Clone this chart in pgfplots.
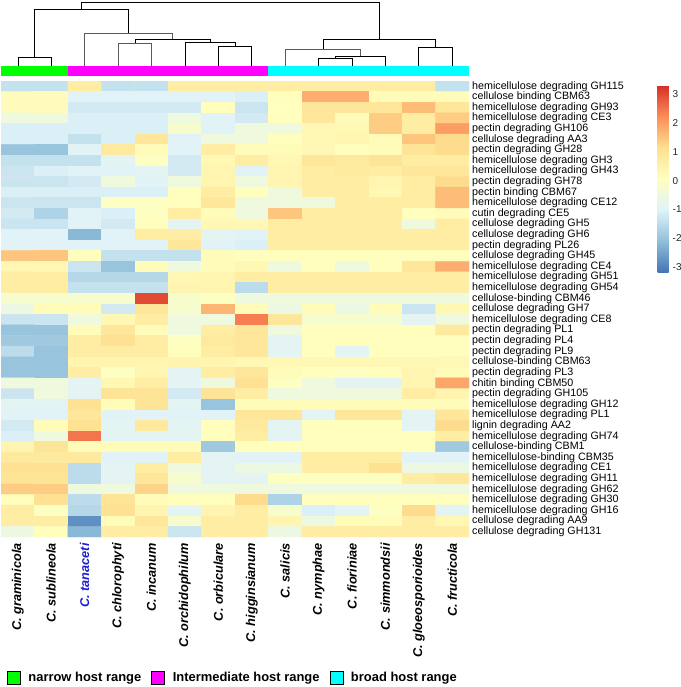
\documentclass[border=0pt]{standalone}
\usepackage{fontspec}
\setmainfont{Liberation Sans}
\usepackage{graphicx}
\usepackage{pgfplots}
\pgfplotsset{compat=1.18}
\definecolor{dendro}{HTML}{5A5A5A}
\definecolor{narrowc}{HTML}{00FF00}
\definecolor{interc}{HTML}{FF00FF}
\definecolor{broadc}{HTML}{00FFFF}
\definecolor{tanac}{HTML}{1E1ED2}
\newcommand\spn[1]{\scalebox{1.36}{\fontsize{9.4}{11}\selectfont\bfseries\itshape #1}}
\begin{document}
\begin{tikzpicture}
% ---------- dendrogram and annotation bar ----------
\begin{axis}[at={(1bp,0bp)}, anchor=north west, scale only axis,
  width=468bp, height=76bp, xmin=0.5, xmax=14.5, ymin=0, ymax=76,
  y dir=reverse, hide axis, clip=false,
  cycle list={{dendro, line width=0.9bp, solid, mark=none}}]
\addplot[fill=narrowc, draw=none] coordinates {(0.5,66) (2.5,66) (2.5,76) (0.5,76)} -- cycle;
\addplot[fill=interc, draw=none] coordinates {(2.5,66) (8.5,66) (8.5,76) (2.5,76)} -- cycle;
\addplot[fill=broadc, draw=none] coordinates {(8.5,66) (14.5,66) (14.5,76) (8.5,76)} -- cycle;
\addplot coordinates {(1,66) (1,56.7) (2,56.7) (2,66)};
\addplot coordinates {(4,66) (4,43.3) (5,43.3) (5,66)};
\addplot coordinates {(7,66) (7,46.7) (8,46.7) (8,66)};
\addplot coordinates {(6,66) (6,41.7) (7.5,41.7) (7.5,46.7)};
\addplot coordinates {(4.5,43.3) (4.5,39.3) (6.75,39.3) (6.75,41.7)};
\addplot coordinates {(3,66) (3,33.3) (5.625,33.3) (5.625,39.3)};
\addplot coordinates {(1.5,56.7) (1.5,9.3) (4.3125,9.3) (4.3125,33.3)};
\addplot coordinates {(10,66) (10,57.7) (11,57.7) (11,66)};
\addplot coordinates {(10.5,57.7) (10.5,55.7) (12,55.7) (12,66)};
\addplot coordinates {(9,66) (9,49) (11.25,49) (11.25,55.7)};
\addplot coordinates {(13,66) (13,47.3) (14,47.3) (14,66)};
\addplot coordinates {(10.125,49) (10.125,39.3) (13.5,39.3) (13.5,47.3)};
\addplot coordinates {(2.906,9.3) (2.906,1.7) (11.8125,1.7) (11.8125,39.3)};
\end{axis}
% ---------- heatmap ----------
\begin{axis}[at={(1bp,-81bp)}, anchor=north west, scale only axis,
  width=468bp, height=456bp, xmin=0.5, xmax=14.5, ymin=0.5, ymax=43.5,
  y dir=reverse, axis line style={draw=none}, major tick length=0pt,
  xtick={1,...,14}, ytick={1,...,43},
  xticklabels={\spn{C. graminicola}, \spn{C. sublineola}, \spn{\textcolor{tanac}{C. tanaceti}}, \spn{C. chlorophyti}, \spn{C. incanum}, \spn{C. orchidophilum}, \spn{C. orbiculare}, \spn{C. higginsianum}, \spn{C. salicis}, \spn{C. nymphae}, \spn{C. fioriniae}, \spn{C. simmondsii}, \spn{C. gloeosporioides}, \spn{C. fructicola}},
  xticklabel style={rotate=90, anchor=east, inner sep=0pt},
  xticklabel shift=6bp,
  yticklabel pos=right,
  yticklabels={hemicellulose degrading GH115, cellulose binding CBM63, hemicellulose degrading GH93, hemicellulose degrading CE3, pectin degrading GH106, cellulose degrading AA3, pectin degrading GH28, hemicellulose degrading GH3, hemicellulose degrading GH43, pectin degrading GH78, pectin binding CBM67, hemicellulose degrading CE12, cutin degrading CE5, cellulose degrading GH5, cellulose degrading GH6, pectin degrading PL26, cellulose degrading GH45, hemicellulose degrading CE4, hemicellulose degrading GH51, hemicellulose degrading GH54, cellulose-binding CBM46, cellulose degrading GH7, hemicellulose degrading CE8, pectin degrading PL1, pectin degrading PL4, pectin degrading PL9, cellulose-binding CBM63, pectin degrading PL3, chitin binding CBM50, pectin degrading GH105, hemicellulose degrading GH12, hemicellulose degrading PL1, lignin degrading AA2, hemicellulose degrading GH74, cellulose-binding CBM1, hemicellulose-binding CBM35, hemicellulose degrading CE1, hemicellulose degrading GH11, hemicellulose degrading GH62, hemicellulose degrading GH30, hemicellulose degrading GH16, cellulose degrading AA9, cellulose degrading GH131},
  yticklabel style={font=\fontsize{10.75}{11}\selectfont, anchor=west, inner sep=0pt},
  yticklabel shift=3bp,
  colormap={rdylbu}{rgb255=(69,117,180) rgb255=(145,191,219) rgb255=(224,243,248) rgb255=(255,255,191) rgb255=(254,224,144) rgb255=(252,141,89) rgb255=(215,48,39)},
  point meta min=-3.18, point meta max=3.3,
  colorbar,
  colorbar style={at={(parent axis.north east)}, anchor=north west,
    xshift=180bp, yshift=-4.7bp, scale only axis, width=11bp, height=186.3bp,
    axis line style={draw=none}, major tick length=0pt,
    ytick={-3,-2,-1,0,1,2,3}, yticklabels={-3,-2,-1,0,1,2,3},
    yticklabel style={font=\fontsize{10}{11}\selectfont, color=black!85, anchor=west, inner sep=0pt},
    yticklabel shift=4bp},
  legend style={at={(axis description cs:0.0128,-0.309)}, anchor=west,
    draw=none, fill=none, inner sep=0pt, outer sep=0pt,
    font=\fontsize{13}{15}\selectfont\bfseries,
    nodes={inner sep=0pt},
    /tikz/every odd column/.append style={column sep=8bp},
    /tikz/every even column/.append style={column sep=10bp}},
  legend columns=3,
  legend image code/.code={\fill[#1] (0bp,-6.5bp) rectangle (13bp,6.5bp);},
]
\addplot[matrix plot, draw=none, mesh/cols=14, point meta=explicit, forget plot]
 table[row sep=\\, x expr={\coordindex-14*floor((\coordindex+0.5)/14)+1}, y expr={floor((\coordindex+0.5)/14)+1}, meta=c] {
c\\
-1.4\\ -1.4\\ 0.7\\ -1.4\\ -1.4\\ 0.7\\ 0.7\\ 0.7\\ 0.7\\ 0.7\\ 0.7\\ 0.7\\ 0.7\\ -1.4\\
0.15\\ 0.15\\ -1.0\\ -1.0\\ -1.0\\ -1.0\\ -1.0\\ -1.1\\ 0.1\\ 1.8\\ 1.8\\ 0.2\\ 0.2\\ 0.2\\
0.15\\ 0.15\\ -1.2\\ -1.2\\ -1.2\\ -1.2\\ 0.1\\ -1.3\\ 0.05\\ 0.9\\ 0.9\\ 0.9\\ 1.6\\ 0.9\\
-0.5\\ -0.5\\ -1.1\\ -1.1\\ -1.1\\ -0.5\\ -1.0\\ -1.2\\ 0.1\\ 0.9\\ 0.2\\ 1.4\\ 0.7\\ 1.4\\
-1.1\\ -1.1\\ -1.1\\ -1.1\\ -1.1\\ -0.2\\ -1.0\\ -0.5\\ -0.5\\ 0.3\\ 0.3\\ 1.4\\ 0.7\\ 2.0\\
-1.1\\ -1.1\\ -1.4\\ -1.1\\ 0.9\\ -1.0\\ -0.5\\ -0.5\\ 0.1\\ 0.3\\ 0.4\\ 0.2\\ 1.5\\ 1.2\\
-2.0\\ -2.0\\ -1.0\\ 0.8\\ 0.2\\ -1.0\\ 0.7\\ 0.2\\ 0.2\\ 0.3\\ 0.1\\ 0.2\\ 1.0\\ 1.2\\
-1.4\\ -1.4\\ -1.4\\ -0.9\\ 0.0\\ -1.2\\ 0.3\\ 0.7\\ 0.3\\ 0.9\\ 0.8\\ 1.0\\ 0.7\\ 0.7\\
-1.3\\ -1.1\\ -1.0\\ -1.0\\ -0.9\\ -1.2\\ 0.4\\ -1.0\\ 0.4\\ 0.7\\ 0.8\\ 0.7\\ 0.9\\ 0.9\\
-1.3\\ -1.3\\ -1.2\\ -0.5\\ -1.0\\ -0.5\\ 0.4\\ -0.5\\ 0.4\\ 0.7\\ 0.7\\ 0.4\\ 0.7\\ 1.2\\
-1.1\\ -1.1\\ -1.1\\ -1.1\\ -1.1\\ 0.1\\ 0.7\\ 0.1\\ -0.5\\ 0.7\\ 0.7\\ 0.3\\ 0.7\\ 1.6\\
-1.3\\ -1.3\\ -1.3\\ 0.0\\ 0.0\\ 0.1\\ 0.9\\ -0.5\\ -0.5\\ -0.5\\ 0.7\\ 0.7\\ 0.7\\ 1.6\\
-1.2\\ -1.7\\ -1.0\\ -1.1\\ 0.0\\ 0.7\\ 0.2\\ -0.5\\ 1.5\\ 0.7\\ 0.7\\ 0.7\\ 0.1\\ 0.2\\
-1.3\\ -1.3\\ -1.0\\ -1.2\\ 0.1\\ -0.9\\ 0.3\\ 0.3\\ 0.7\\ 0.7\\ 0.7\\ 0.7\\ -0.5\\ 0.7\\
-1.0\\ -1.0\\ -2.2\\ -1.0\\ 0.7\\ 0.7\\ -0.9\\ -1.0\\ 0.7\\ 0.7\\ 0.7\\ 0.7\\ 0.7\\ 0.7\\
-1.0\\ -1.0\\ -1.0\\ -1.0\\ -1.0\\ 0.9\\ -1.0\\ -1.1\\ 0.7\\ 0.7\\ 0.7\\ 0.7\\ 0.7\\ 0.7\\
1.5\\ 1.5\\ 0.1\\ -1.4\\ -1.4\\ -1.4\\ 0.2\\ 0.1\\ 0.1\\ 0.1\\ 0.1\\ 0.1\\ 0.1\\ 0.1\\
0.3\\ 0.3\\ -1.3\\ -2.0\\ 0.2\\ -0.5\\ 0.2\\ 0.3\\ -0.5\\ 0.1\\ -0.5\\ 0.1\\ 0.9\\ 1.8\\
0.7\\ 0.7\\ -1.6\\ -1.6\\ -1.6\\ 0.3\\ 0.4\\ 0.7\\ 0.7\\ 0.7\\ 0.7\\ 0.7\\ 0.7\\ 0.7\\
0.7\\ 0.7\\ -1.4\\ -1.4\\ -1.4\\ 0.4\\ 0.4\\ -1.5\\ 0.7\\ 0.7\\ 0.7\\ 0.7\\ 0.7\\ 0.7\\
-0.2\\ -0.2\\ -0.2\\ -0.2\\ 3.0\\ -0.2\\ 0.0\\ -0.5\\ -0.5\\ -0.5\\ -0.5\\ -0.5\\ -0.5\\ -0.5\\
-0.6\\ 0.2\\ 0.2\\ -1.2\\ 0.9\\ -0.2\\ 1.7\\ 0.2\\ -0.6\\ 0.2\\ -0.6\\ 0.2\\ -1.3\\ 0.3\\
-1.3\\ -1.3\\ -0.5\\ 0.3\\ 0.7\\ -0.5\\ -0.5\\ 2.4\\ 0.9\\ -0.2\\ -0.2\\ -0.2\\ -0.9\\ -0.5\\
-2.0\\ -2.0\\ 0.2\\ 0.9\\ 0.2\\ -0.5\\ 0.7\\ 0.9\\ -0.5\\ 0.1\\ 0.1\\ 0.1\\ 0.1\\ 0.8\\
-1.9\\ -1.9\\ 0.7\\ 1.1\\ 0.7\\ 0.0\\ 0.8\\ 0.9\\ -0.9\\ 0.1\\ 0.1\\ 0.1\\ 0.1\\ 0.1\\
-1.5\\ -2.0\\ 0.7\\ 0.7\\ 0.7\\ 0.1\\ 0.7\\ 0.9\\ -0.9\\ 0.1\\ -0.9\\ 0.1\\ 0.1\\ 0.1\\
-2.0\\ -2.0\\ 0.4\\ 0.4\\ 0.4\\ 0.4\\ 0.4\\ 0.3\\ 0.3\\ 0.3\\ 0.3\\ 0.3\\ 0.3\\ 0.3\\
-2.0\\ -2.0\\ 0.7\\ 0.0\\ 0.4\\ -0.9\\ 0.7\\ 0.9\\ 0.2\\ 0.1\\ 0.0\\ 0.1\\ 0.4\\ 0.2\\
-0.5\\ -0.5\\ -0.9\\ 0.3\\ 0.7\\ -0.9\\ -0.5\\ 1.1\\ 0.0\\ -0.5\\ -0.9\\ -0.9\\ 0.4\\ 1.9\\
-1.3\\ -0.5\\ -0.9\\ 1.0\\ 1.0\\ -1.2\\ 1.0\\ 0.7\\ -0.5\\ -0.5\\ -0.5\\ -0.5\\ 0.7\\ 0.4\\
-0.9\\ -0.9\\ 1.1\\ 0.2\\ 1.0\\ -0.9\\ -2.0\\ 0.2\\ 0.2\\ 0.2\\ 0.2\\ 0.2\\ 0.2\\ 0.2\\
-1.0\\ -1.0\\ 0.9\\ -1.0\\ -1.0\\ -1.0\\ -1.0\\ 0.9\\ 0.9\\ -0.9\\ 0.9\\ 0.9\\ -0.9\\ 0.9\\
-1.2\\ 0.2\\ 1.1\\ -0.9\\ 0.8\\ -0.9\\ 0.1\\ 0.8\\ -0.9\\ 0.1\\ 0.1\\ 0.1\\ -0.9\\ 1.2\\
-1.1\\ -0.5\\ 2.5\\ -0.9\\ -0.9\\ -0.9\\ 0.1\\ 0.7\\ -0.9\\ 0.1\\ 0.1\\ 0.1\\ 0.1\\ 0.7\\
0.4\\ 1.0\\ 0.2\\ 0.2\\ 0.2\\ 0.2\\ -1.9\\ 0.1\\ 0.1\\ 0.1\\ 0.1\\ 0.1\\ 0.1\\ -1.9\\
0.8\\ 0.8\\ 0.8\\ -1.0\\ -1.0\\ 0.7\\ -0.9\\ -1.0\\ -1.0\\ 0.7\\ 0.7\\ 0.7\\ -1.0\\ -1.0\\
1.1\\ 1.1\\ -1.5\\ -0.9\\ 0.7\\ -0.5\\ -0.9\\ -0.6\\ -0.6\\ 0.7\\ 0.7\\ 1.1\\ -0.6\\ -0.6\\
1.0\\ 1.0\\ -1.5\\ -0.9\\ 0.9\\ -0.2\\ -0.9\\ -0.9\\ 0.0\\ 0.0\\ 0.0\\ 0.0\\ 0.7\\ 0.9\\
1.4\\ 1.4\\ -0.5\\ -0.5\\ 1.3\\ -0.5\\ -0.5\\ -0.5\\ -0.5\\ -0.5\\ -0.5\\ -0.5\\ -0.5\\ -0.5\\
0.1\\ 1.1\\ -1.5\\ 1.0\\ 0.2\\ 0.1\\ 0.1\\ 1.2\\ -1.7\\ 0.1\\ 0.1\\ 0.1\\ 0.1\\ 0.1\\
0.7\\ 0.0\\ -1.6\\ 1.1\\ 0.4\\ -0.9\\ 0.4\\ 0.7\\ -0.2\\ -1.1\\ -0.9\\ 0.0\\ 1.2\\ -0.9\\
0.7\\ 0.7\\ -2.8\\ 0.2\\ 0.9\\ -0.2\\ 0.7\\ 0.7\\ 0.4\\ -0.6\\ 0.2\\ 0.2\\ 0.7\\ 0.3\\
-0.6\\ 0.1\\ -2.2\\ 0.7\\ 0.7\\ -1.3\\ 0.7\\ 0.7\\ -0.6\\ 0.7\\ 0.7\\ 0.7\\ 0.7\\ 0.7\\
};
\addlegendimage{fill=narrowc}
\addlegendentry{narrow host range}
\addlegendimage{fill=interc}
\addlegendentry{Intermediate host range}
\addlegendimage{fill=broadc}
\addlegendentry{broad host range}
\end{axis}
\pgfresetboundingbox
\path[use as bounding box] (0,0) rectangle (681bp,-687bp);
\end{tikzpicture}
\end{document}
